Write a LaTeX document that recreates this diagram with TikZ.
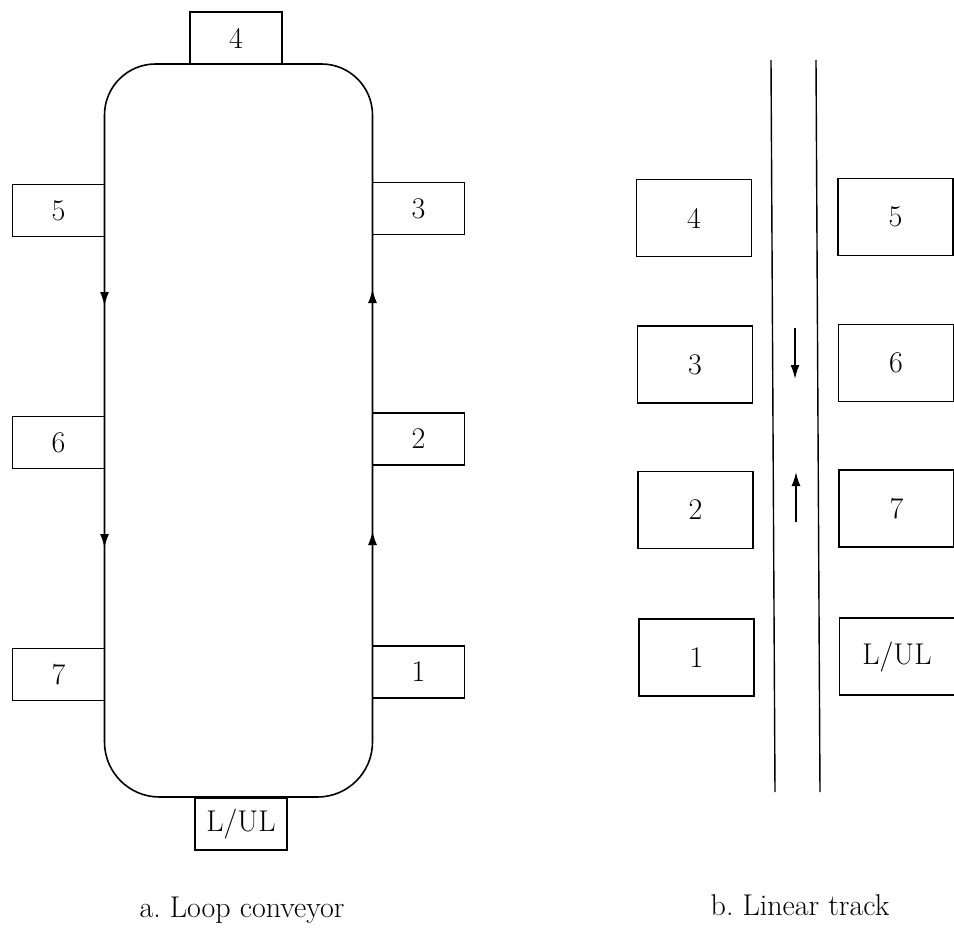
\documentclass[tikz,border=0pt]{standalone}
\usetikzlibrary{arrows.meta}
\begin{document}
\begin{tikzpicture}[x=1pt,y=-1pt,
  lbl/.style={font=\fontsize{30}{36}\selectfont},
  sbox/.style={draw,line width=1.3pt,minimum width=92pt,minimum height=52pt,inner sep=0pt,lbl},
  tbox/.style={draw,line width=1.3pt,minimum width=115pt,minimum height=77pt,inner sep=0pt,lbl},
  loopline/.style={line width=1.6pt},
  trackline/.style={line width=1.4pt},
  flow/.style={line width=1.6pt,-{Latex[length=14pt,width=9pt]}},
  captext/.style={lbl,anchor=base}]
\useasboundingbox (0,0) rectangle (954,931);

% ---- a. Loop conveyor ----
\draw[loopline] (104.5,115) arc[start angle=180,end angle=270,radius=51] -- (321.5,64)
  arc[start angle=270,end angle=360,radius=51] -- (372.5,742)
  arc[start angle=0,end angle=90,radius=55] -- (159.5,797)
  arc[start angle=90,end angle=180,radius=55] -- cycle;

\node[sbox] (a4) at (236,38) {4};
\node[sbox] (a5) at (58.5,210.5) {5};
\node[sbox] (a3) at (418.5,208.5) {3};
\node[sbox] (a6) at (58.5,442.5) {6};
\node[sbox] (a2) at (418.5,439) {2};
\node[sbox] (a7) at (58.5,674.5) {7};
\node[sbox] (a1) at (418.5,672) {1};
\node[sbox] (aLUL) at (241,824) {L/UL};

\coordinate (l1s) at (104.5,280); \coordinate (l1e) at (104.5,306);
\coordinate (l2s) at (104.5,522); \coordinate (l2e) at (104.5,548);
\coordinate (r1s) at (372.5,315); \coordinate (r1e) at (372.5,289);
\coordinate (r2s) at (372.5,557); \coordinate (r2e) at (372.5,531);
\draw[flow] (l1s) -- (l1e);
\draw[flow] (l2s) -- (l2e);
\draw[flow] (r1s) -- (r1e);
\draw[flow] (r2s) -- (r2e);

\node[captext] (capa) at (242,917) {a.\ Loop conveyor};

% ---- b. Linear track ----
\coordinate (tl1) at (771,60); \coordinate (tl2) at (775,792);
\coordinate (tr1) at (816,60); \coordinate (tr2) at (820,792);
\draw[trackline] (tl1) -- (tl2);
\draw[trackline] (tr1) -- (tr2);

\node[tbox] (b4) at (694,218) {4};
\node[tbox] (b5) at (895.5,217) {5};
\node[tbox] (b3) at (695,364.5) {3};
\node[tbox] (b6) at (896,363) {6};
\node[tbox] (b2) at (695.5,510) {2};
\node[tbox] (b7) at (896.5,508.5) {7};
\node[tbox] (b1) at (696.5,657.5) {1};
\node[tbox] (bLUL) at (897,656.5) {L/UL};

\coordinate (dn1) at (795,328); \coordinate (dn2) at (795,379);
\coordinate (up1) at (796,522); \coordinate (up2) at (796,472);
\draw[flow] (dn1) -- (dn2);
\draw[flow] (up1) -- (up2);

\node[captext] (capb) at (800,915) {b.\ Linear track};
\end{tikzpicture}
\end{document}
